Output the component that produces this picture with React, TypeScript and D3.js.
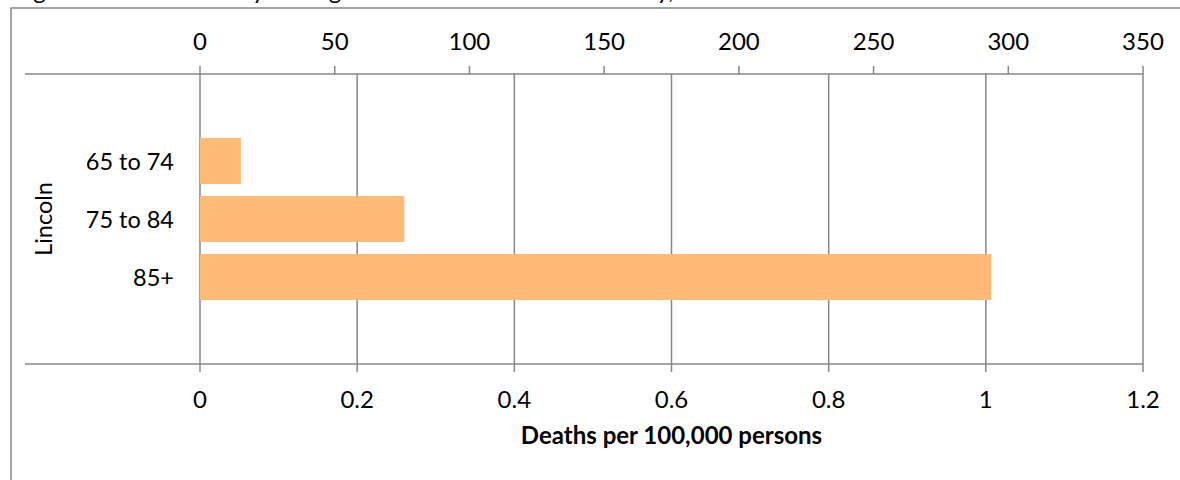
import React from "react";
import * as d3 from "d3";

const categories = ["65 to 74", "75 to 84", "85+"];
const values = [0.052, 0.26, 1.007];
const bottomTicks = [0, 0.2, 0.4, 0.6, 0.8, 1, 1.2];
const topTicks = [0, 50, 100, 150, 200, 250, 300, 350];
const groupLabel = "Lincoln";
const axisTitle = "Deaths per 100,000 persons";
const figureTitle = "Figure 14: Fall Mortality among Older Adults in Lincoln County, 2008-2012";

const W = 1180;
const H = 480;
const FONT = "Lato, Carlito, Calibri, 'Open Sans', sans-serif";
const GRID = "#878787";
const BAR = "#FFBA78";

export default function App() {
  const left = 200;
  const right = 1143;
  const top = 74;
  const bottom = 364;
  const lineLeft = 25;

  const x = d3.scaleLinear().domain([0, 1.2]).range([left, right]);
  const xTop = d3.scaleLinear().domain([0, 350]).range([left, right]);
  const step = (bottom - top) / 5;
  const y = d3
    .scaleBand<string>()
    .domain(categories)
    .range([top + step, bottom - step])
    .paddingInner(12 / 58)
    .paddingOuter(6 / 58);

  return (
    <svg
      width={W}
      height={H}
      style={{ position: "absolute", left: 0, top: 0, background: "#fff" }}
      fontFamily={FONT}
    >
      <rect x={0} y={0} width={W} height={H} fill="#fff" />
      {/* cut-off title */}
      <text x={14} y={-1} fontSize={24} fill="#000">
        {figureTitle}
      </text>
      {/* outer frame */}
      <rect x={11} y={8} width={W + 20} height={H + 20} fill="none" stroke={GRID} strokeWidth={1.5} />

      {/* vertical gridlines */}
      {bottomTicks.map((t) => (
        <line key={"g" + t} x1={x(t)} x2={x(t)} y1={top} y2={bottom} stroke={GRID} strokeWidth={1.5} />
      ))}

      {/* bars */}
      {categories.map((c, i) => (
        <rect
          key={c}
          x={x(0)}
          y={y(c)}
          width={x(values[i]) - x(0)}
          height={y.bandwidth()}
          fill={BAR}
        />
      ))}

      {/* axis lines */}
      <line x1={lineLeft} x2={right} y1={top} y2={top} stroke={GRID} strokeWidth={1.5} />
      <line x1={lineLeft} x2={right} y1={bottom} y2={bottom} stroke={GRID} strokeWidth={1.5} />

      {/* top ticks */}
      {topTicks.map((t) => (
        <g key={"t" + t}>
          <line x1={xTop(t)} x2={xTop(t)} y1={top - 8} y2={top} stroke={GRID} strokeWidth={1.5} />
          <text x={xTop(t)} y={40} textAnchor="middle" dominantBaseline="central" fontSize={24} fill="#000">
            {t}
          </text>
        </g>
      ))}

      {/* bottom ticks */}
      {bottomTicks.map((t) => (
        <g key={"b" + t}>
          <line x1={x(t)} x2={x(t)} y1={bottom} y2={bottom + 8} stroke={GRID} strokeWidth={1.5} />
          <text x={x(t)} y={398} textAnchor="middle" dominantBaseline="central" fontSize={24} fill="#000">
            {t}
          </text>
        </g>
      ))}

      {/* category labels */}
      {categories.map((c) => (
        <text
          key={"l" + c}
          x={174}
          y={(y(c) as number) + y.bandwidth() / 2}
          textAnchor="end"
          dominantBaseline="central"
          fontSize={23.5}
          fill="#000"
        >
          {c}
        </text>
      ))}

      {/* group label */}
      <text
        transform={`translate(43,${(top + bottom) / 2}) rotate(-90)`}
        textAnchor="middle"
        dominantBaseline="central"
        fontSize={23.5}
        fill="#000"
      >
        {groupLabel}
      </text>

      {/* axis title */}
      <text x={(left + right) / 2} y={444} textAnchor="middle" fontSize={24} fontWeight="bold" fill="#000">
        {axisTitle}
      </text>
    </svg>
  );
}
